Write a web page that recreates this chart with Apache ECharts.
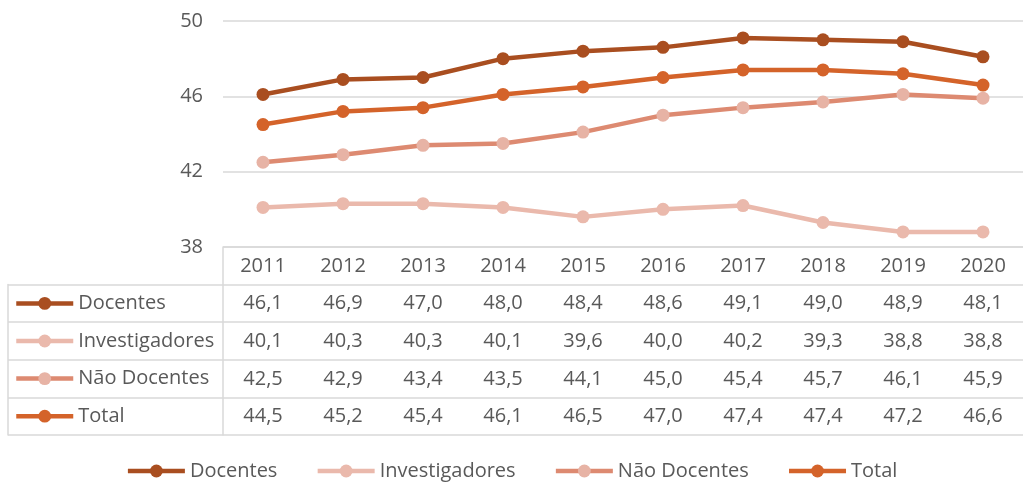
<!DOCTYPE html>
<html>
<head>
<meta charset="utf-8">
<script src="https://cdn.jsdelivr.net/npm/echarts@6/dist/echarts.min.js"></script>
<style>
  html, body { margin: 0; padding: 0; background: #fff; }
  #chart { width: 1023px; height: 485px; }
</style>
</head>
<body>
<div id="chart"></div>
<script>
  const years = ['2011', '2012', '2013', '2014', '2015', '2016', '2017', '2018', '2019', '2020'];
  const seriesNames = ['Docentes', 'Investigadores', 'Não Docentes', 'Total'];
  const docentes = [46.1, 46.9, 47.0, 48.0, 48.4, 48.6, 49.1, 49.0, 48.9, 48.1];
  const investigadores = [40.1, 40.3, 40.3, 40.1, 39.6, 40.0, 40.2, 39.3, 38.8, 38.8];
  const naoDocentes = [42.5, 42.9, 43.4, 43.5, 44.1, 45.0, 45.4, 45.7, 46.1, 45.9];
  const total = [44.5, 45.2, 45.4, 46.1, 46.5, 47.0, 47.4, 47.4, 47.2, 46.6];

  const rows = [docentes, investigadores, naoDocentes, total];
  const lineColors = ['#A94E20', '#EAB9AC', '#DD8A71', '#D4632A'];
  const markColors = ['#A94E20', '#EAB9AC', '#E7B3A5', '#D4632A'];

  const font = 'Open Sans';
  const textColor = '#595959';
  const gridColor = '#D9D9D9';
  const rowH = 37.6;
  const tableTop = 247;
  const tableBottom = tableTop + rowH * 5;

  const fmt = (v) => v.toFixed(1).replace('.', ',');

  const chart = echarts.init(document.getElementById('chart'));

  // axes that print the table: header (years) + one per row
  const labelAxes = [0, 1, 2, 3, 4].map((k) => ({
    type: 'category',
    gridIndex: 0,
    data: years,
    position: 'bottom',
    offset: rowH * k,
    axisLine: { show: false },
    axisTick: { show: false },
    axisLabel: {
      margin: 19,
      verticalAlign: 'middle',
      fontFamily: font,
      fontSize: 20,
      color: textColor,
      formatter: (val, idx) => (k === 0 ? val : fmt(rows[k - 1][idx]))
    }
  }));

  const legendBase = {
    padding: 0,
    itemWidth: 57,
    itemHeight: 16,
    selectedMode: false,
    lineStyle: { width: 4.5 },
    textStyle: { fontFamily: font, fontSize: 20, color: textColor }
  };

  const rowLegends = seriesNames.map((name, i) => ({
    ...legendBase,
    data: [name],
    left: 14,
    top: tableTop + rowH * (i + 1) + rowH / 2 - 10
  }));

  const options = {
    animation: false,
    grid: [
      { left: 223, right: 0, top: 21, bottom: 485 - tableTop },
      { left: 223, right: 0, top: tableTop, bottom: 485 - tableBottom },
      { left: 8, width: 215, top: tableTop + rowH, bottom: 485 - tableBottom }
    ],
    legend: [
      {
        ...legendBase,
        data: seriesNames,
        bottom: 4,
        left: 'center',
        itemGap: 38
      },
      ...rowLegends
    ],
    xAxis: [
      ...labelAxes,
      { type: 'value', gridIndex: 1, show: false },
      { type: 'value', gridIndex: 2, show: false }
    ],
    yAxis: [
      {
        type: 'value',
        gridIndex: 0,
        min: 38,
        max: 50,
        interval: 4,
        axisLine: { show: false },
        axisTick: { show: false },
        axisLabel: {
          margin: 20,
          fontFamily: font,
          fontSize: 20,
          color: textColor
        },
        splitLine: { lineStyle: { color: gridColor, width: 1.5 } }
      },
      {
        type: 'category',
        gridIndex: 1,
        inverse: true,
        data: ['', ...seriesNames],
        axisLine: { show: true, lineStyle: { color: gridColor, width: 1.5 } },
        axisTick: { show: false },
        axisLabel: { show: false },
        splitLine: { show: true, lineStyle: { color: gridColor, width: 1.5 } }
      },
      {
        type: 'category',
        gridIndex: 2,
        inverse: true,
        data: seriesNames,
        axisLine: { show: true, lineStyle: { color: gridColor, width: 1.5 } },
        axisTick: { show: false },
        axisLabel: { show: false },
        splitLine: { show: true, lineStyle: { color: gridColor, width: 1.5 } }
      }
    ],
    series: seriesNames.map((name, i) => ({
      name: name,
      type: 'line',
      xAxisIndex: 0,
      yAxisIndex: 0,
      data: rows[i],
      symbol: 'circle',
      symbolSize: 13,
      lineStyle: { color: lineColors[i], width: 4.5 },
      itemStyle: { color: markColors[i] },
      z: i === 1 ? 2 : 3
    }))
  };

  chart.setOption(options);
</script>
</body>
</html>
